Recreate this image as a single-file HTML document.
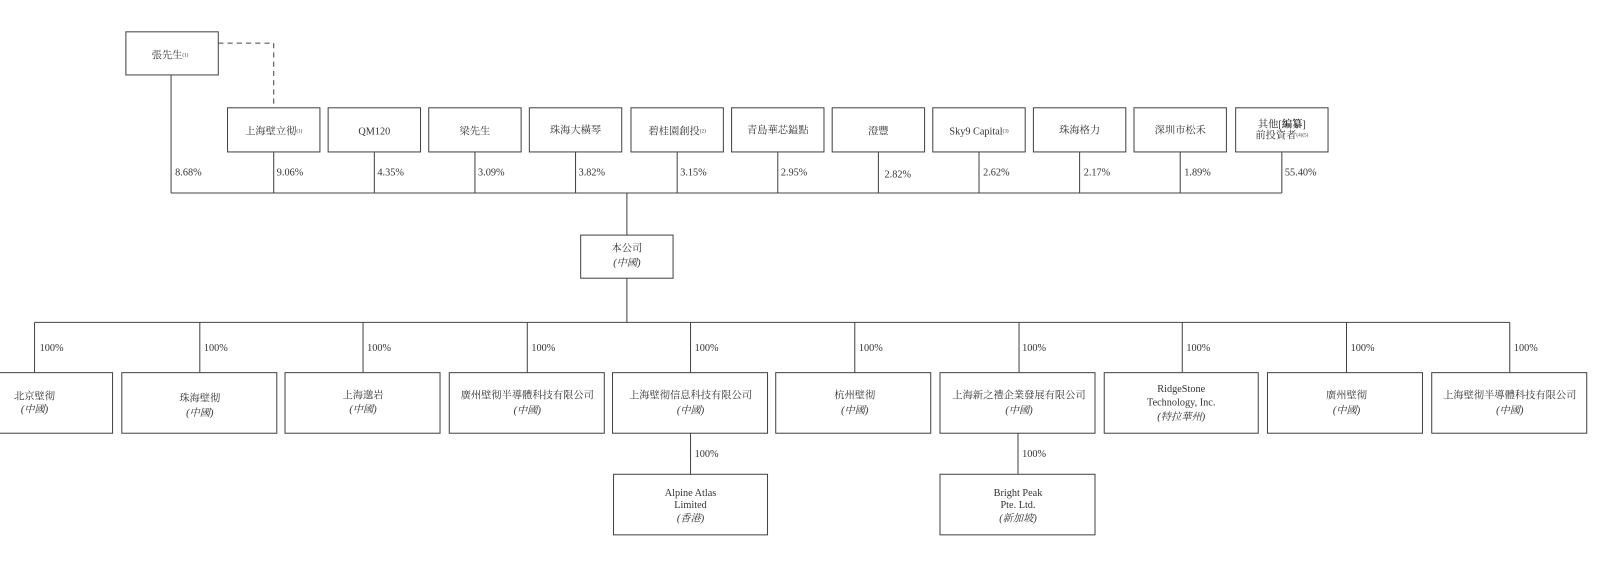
<!DOCTYPE html>
<html><head><meta charset="utf-8"><style>
html,body{margin:0;padding:0;background:#fff;}
svg{display:block;}
text{font-family:"Liberation Serif","Noto Serif CJK SC","Noto Sans CJK TC",serif;fill:#333;font-size:10px;}
.i{font-style:italic;}
.s{font-size:5px;}
</style></head><body>
<svg width="1611" height="579" viewBox="0 0 1568 564" xmlns="http://www.w3.org/2000/svg">
<g stroke="#444" stroke-width="1" fill="none">
<rect x="122" y="31" width="90" height="42"/>
<path d="M212 42 H266 V105" stroke-dasharray="5,4"/>
<rect x="221" y="105" width="90" height="43"/>
<rect x="319" y="105" width="90" height="43"/>
<rect x="417" y="105" width="90" height="43"/>
<rect x="515" y="105" width="90" height="43"/>
<rect x="614" y="105" width="90" height="43"/>
<rect x="712" y="105" width="90" height="43"/>
<rect x="810" y="105" width="90" height="43"/>
<rect x="908" y="105" width="90" height="43"/>
<rect x="1006" y="105" width="90" height="43"/>
<rect x="1104" y="105" width="90" height="43"/>
<rect x="1203" y="105" width="90" height="43"/>
<path d="M166 73 V188 M266 148 V188 M364 148 V188 M462 148 V188 M560 148 V188 M659 148 V188 M757 148 V188 M855 148 V188 M953 148 V188 M1051 148 V188 M1149 148 V188 M1248 148 V188 M166 188 H1248"/>
<path d="M610 188 V229"/>
<rect x="565" y="229" width="90" height="42"/>
<path d="M610 271 V314 M33 314 H1470"/>
<path d="M33 314 V363 M194 314 V363 M353 314 V363 M513 314 V363 M672 314 V363 M832 314 V363 M992 314 V363 M1151 314 V363 M1311 314 V363 M1470 314 V363"/>
<rect x="-42" y="363" width="151" height="59"/>
<rect x="118" y="363" width="151" height="59"/>
<rect x="277" y="363" width="151" height="59"/>
<rect x="437" y="363" width="151" height="59"/>
<rect x="596" y="363" width="151" height="59"/>
<rect x="755" y="363" width="151" height="59"/>
<rect x="915" y="363" width="151" height="59"/>
<rect x="1075" y="363" width="150" height="59"/>
<rect x="1234" y="363" width="151" height="59"/>
<rect x="1394" y="363" width="151" height="59"/>
<path d="M672 422 V462 M991 422 V462"/>
<rect x="597" y="462" width="150" height="59"/>
<rect x="915" y="462" width="151" height="59"/>
</g>
<g text-anchor="middle">
<text x="165" y="57">張先生<tspan class="s" dy="-2">(1)</tspan></text>
<text x="266" y="131">上海壁立彻<tspan class="s" dy="-2">(1)</tspan></text>
<text x="364" y="131">QM120</text>
<text x="462" y="131">梁先生</text>
<text x="560" y="130">珠海大橫琴</text>
<text x="659" y="131">碧桂園創投<tspan class="s" dy="-2">(2)</tspan></text>
<text x="757" y="130">青島華芯鎰點</text>
<text x="855" y="131">澄豐</text>
<text x="953" y="131">Sky9 Capital<tspan class="s" dy="-2">(3)</tspan></text>
<text x="1051" y="130">珠海格力</text>
<text x="1149" y="130">深圳市松禾</text>
<text x="1248" y="124">其他[<tspan font-weight="bold">編纂</tspan>]</text>
<text x="1248" y="135">前投資者<tspan class="s" dy="-2">(4)(5)</tspan></text>
<text x="610" y="245">本公司</text>
<text x="610" y="259" class="i">(中國)</text>
<text x="33" y="389">北京壁彻</text><text x="33" y="402" class="i">(中國)</text>
<text x="194" y="391">珠海壁彻</text><text x="194" y="405" class="i">(中國)</text>
<text x="353" y="388">上海邈岩</text><text x="353" y="402" class="i">(中國)</text>
<text x="513" y="388">廣州壁彻半導體科技有限公司</text><text x="513" y="403" class="i">(中國)</text>
<text x="672" y="388">上海壁彻信息科技有限公司</text><text x="672" y="403" class="i">(中國)</text>
<text x="832" y="388">杭州壁彻</text><text x="832" y="403" class="i">(中國)</text>
<text x="992" y="388">上海新之禮企業發展有限公司</text><text x="992" y="403" class="i">(中國)</text>
<text x="1150" y="382">RidgeStone</text><text x="1150" y="395">Technology, Inc.</text><text x="1150" y="409" class="i">(特拉華州)</text>
<text x="1311" y="388">廣州壁彻</text><text x="1311" y="403" class="i">(中國)</text>
<text x="1470" y="388">上海壁彻半導體科技有限公司</text><text x="1470" y="403" class="i">(中國)</text>
<text x="672" y="483">Alpine Atlas</text><text x="672" y="495">Limited</text><text x="672" y="508" class="i">(香港)</text>
<text x="991" y="483">Bright Peak</text><text x="991" y="495">Pte. Ltd.</text><text x="991" y="508" class="i">(新加坡)</text>
</g>
<g>
<text x="170" y="171">8.68%</text>
<text x="269" y="171">9.06%</text>
<text x="367" y="171">4.35%</text>
<text x="465" y="171">3.09%</text>
<text x="563" y="171">3.82%</text>
<text x="662" y="171">3.15%</text>
<text x="760" y="171">2.95%</text>
<text x="861" y="173">2.82%</text>
<text x="957" y="171">2.62%</text>
<text x="1055" y="171">2.17%</text>
<text x="1153" y="171">1.89%</text>
<text x="1251" y="171">55.40%</text>
<text x="38" y="342">100%</text>
<text x="198" y="342">100%</text>
<text x="357" y="342">100%</text>
<text x="517" y="342">100%</text>
<text x="676" y="342">100%</text>
<text x="836" y="342">100%</text>
<text x="995" y="342">100%</text>
<text x="1155" y="342">100%</text>
<text x="1315" y="342">100%</text>
<text x="1474" y="342">100%</text>
<text x="676" y="445">100%</text>
<text x="995" y="445">100%</text>
</g>
</svg>
</body></html>
